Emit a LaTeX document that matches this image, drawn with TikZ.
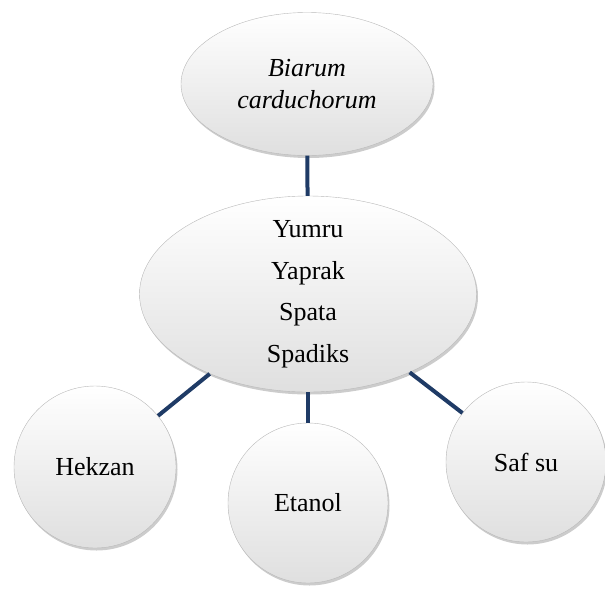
\documentclass[tikz,border=0pt]{standalone}
\usepackage{fontspec}
\setmainfont{Liberation Serif}
\usetikzlibrary{shadows,shapes.geometric}
\definecolor{linkblue}{HTML}{1F3B66}

\begin{document}
\begin{tikzpicture}[x=1pt, y=-1pt,
                    every node/.style={draw=gray!55, thin, top color=white, bottom color=gray!25,
                                       drop shadow={opacity=0.4, shadow xshift=1.5pt, shadow yshift=-2.5pt},
                                       font=\fontsize{26}{41.5}\selectfont, align=center, inner sep=0pt},
                    every edge/.style={draw, line width=4pt, linkblue}]

                    \useasboundingbox (0,0) rectangle (605,590);

                    % Define nodes
                    \node[ellipse, minimum width=252, minimum height=143] (P) at (307,84)
                        {\itshape Biarum\\[-9pt]\itshape carduchorum}; % Plant
                    \node[ellipse, inner sep=-20pt, minimum width=337, minimum height=196] (O) at (308,294)
                        {Yumru\\Yaprak\\Spata\\Spadiks}; % Organs
                    \node[circle, minimum size=162] (H) at (95,467) {Hekzan}; % Solvent 1
                    \node[circle, minimum size=160] (E) at (308,503) {Etanol}; % Solvent 2
                    \node[circle, minimum size=160] (S) at (526,462) {Saf su}; % Solvent 3

                    % Define edges
                    \path (P) edge (O);
                    \path (O) edge (H);
                    \path (O) edge (E);
                    \path (O) edge (S);
\end{tikzpicture}
\end{document}
